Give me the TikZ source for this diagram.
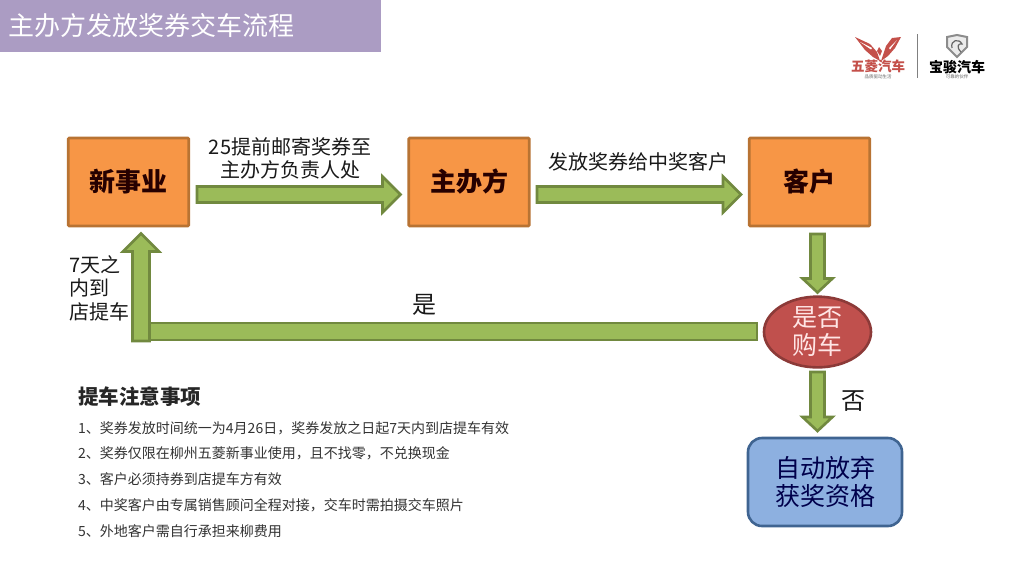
\documentclass[tikz,border=0pt]{standalone}
\usepackage{fontspec}
\setmainfont{Noto Sans CJK SC}
\usetikzlibrary{calc,shapes.geometric}
\definecolor{titlebg}{HTML}{AB9CC3}
\definecolor{orfill}{HTML}{F79646}
\definecolor{orline}{HTML}{B87333}
\definecolor{grfill}{HTML}{9BBB59}
\definecolor{grline}{HTML}{71893F}
\definecolor{redfill}{HTML}{C0504D}
\definecolor{redline}{HTML}{8C3A38}
\definecolor{blfill}{HTML}{8DB0E0}
\definecolor{blline}{HTML}{3F6491}
\definecolor{wlred}{HTML}{C4504A}
\tikzset{
  x=1pt,y=-1pt,
  fs/.style={font=\fontsize{#1}{#1}\selectfont},
  orbox/.style={draw=orline,line width=2.6pt,fill=orfill,rounded corners=1pt,minimum width=120.5pt,minimum height=88pt,inner sep=0pt,text=black!85!red,font=\bfseries\fontsize{26}{26}\selectfont},
  barrowshape/.style={draw=grline,line width=2.6pt,fill=grfill,line join=miter},
  lab/.style={fs=20,text=black!90,inner sep=0pt,align=center},
  note/.style={anchor=west,fs=14,text=black!80,inner sep=0pt},
}
% block arrow from #1 to #2: half shaft #3, half head #4, head length #5
\newcommand{\blockarrow}[5]{%
  \coordinate (tmpc) at ($#2!#5pt!#1$);
  \draw[barrowshape] ($#1!#3pt!90:#2$) -- ($(tmpc)!#3pt!90:#2$) -- ($(tmpc)!#4pt!90:#2$) -- #2 -- ($(tmpc)!#4pt!-90:#2$) -- ($(tmpc)!#3pt!-90:#2$) -- ($#1!#3pt!-90:#2$) -- cycle;
}
\begin{document}
\begin{tikzpicture}
\useasboundingbox (0,0) rectangle (1025,579);
\fill[white] (0,0) rectangle (1025,579);
% title
\fill[titlebg] (0,0) rectangle (381,52);
\node[anchor=west,fs=26,text=white,inner sep=0pt] (title) at (8,26) {主办方发放奖券交车流程};
% logos
\fill[wlred] (855,37) -- (870,44) -- (877,52) -- (880,61) -- (873,57) -- (865,50) -- cycle;
\fill[wlred] (901,37) -- (892,38) -- (886,46) -- (884,52) -- (881,61) -- (888,56) -- (895,48) -- cycle;
\fill[wlred] (879,47) -- (882,51) -- (880,56) -- (877,51) -- cycle;
\fill[white] (860,42) -- (872,48) -- (871,49.5) -- cycle;
\fill[white] (897,40) -- (889,48) -- (890,49.5) -- cycle;
\node[inner sep=0pt,text=wlred,font=\bfseries\fontsize{13.5}{13.5}\selectfont] (wl) at (878,66) {五菱汽车};
\node[fs=4.5,text=black!60,inner sep=0pt] (wls) at (878,76.5) {品质驱动生活};
\draw[black!50,line width=0.8pt] (917,34) -- (917,78);
\draw[black!45,line width=2pt,fill=black!8] (947,37) -- (957,35) -- (967,37) -- (967,47) -- (957,57) -- (947,47) -- cycle;
\draw[black!60,line width=1.2pt] (952,48) .. controls (950,40) and (959,38) .. (962,44) .. controls (958,43) and (956,47) .. (961,52);
\node[inner sep=0pt,text=black,font=\bfseries\fontsize{14}{14}\selectfont] (bj) at (957,67) {宝骏汽车};
\node[fs=4.5,text=black!60,inner sep=0pt] (bjs) at (957,76.5) {可靠的伙伴};
% main nodes
\node[orbox] (xsy) at (128.5,182) {新事业};
\node[orbox] (zbf) at (469,182) {主办方};
\node[orbox] (kh) at (809.5,182) {客户};
\node[ellipse,draw=redline,line width=2.6pt,fill=redfill,minimum width=107pt,minimum height=66pt,inner sep=0pt,text=red!10!white,fs=25,align=center] (gc) at (817.5,332) {是否\\[3pt]购车};
\node[draw=blline,line width=2.6pt,fill=blfill,rounded corners=14pt,minimum width=154pt,minimum height=88pt,inner sep=0pt,fs=25,align=center,text=blue!30!black] (fq) at (825,482) {自动放弃\\[3pt]获奖资格};
% arrow end points
\coordinate (a1s) at (197,194.5);
\coordinate (a1e) at (400.5,194.5);
\coordinate (a2s) at (537,194.5);
\coordinate (a2e) at (741,194.5);
\coordinate (a3s) at (817.5,234);
\coordinate (a3e) at (817.5,292.5);
\coordinate (a4s) at (817.5,372);
\coordinate (a4e) at (817.5,431);
\coordinate (a5s) at (141,341);
\coordinate (a5e) at (141,233.5);
\coordinate (a6s) at (757,331.5);
\coordinate (a6e) at (150,331.5);
\blockarrow{(a1s)}{(a1e)}{8}{18}{18}
\blockarrow{(a2s)}{(a2e)}{8}{18}{18}
\blockarrow{(a3s)}{(a3e)}{7}{15}{14}
\blockarrow{(a4s)}{(a4e)}{7}{15}{14}
\draw[barrowshape] (a6s |- 0,323) rectangle (a6e |- 0,340);
\blockarrow{(a5s)}{(a5e)}{8.5}{18}{18}
% arrow labels
\node[lab] (l1) at (290,158) {25提前邮寄奖券至\\[3pt]主办方负责人处};
\node[lab] (l2) at (638.5,162) {发放奖券给中奖客户};
\node[lab,fs=24] (l3) at (424,305) {是};
\node[lab,fs=24] (l4) at (853,401) {否};
\node[lab,align=left,anchor=north west] (l5) at (69,255) {7天之\\[3.5pt]内到\\[3.5pt]店提车};
% notes
\node[anchor=west,inner sep=0pt,text=black!85,font=\bfseries\fontsize{20.5}{20.5}\selectfont] (nh) at (78,397) {提车注意事项};
\node[note] (n1) at (78,428) {1、奖券发放时间统一为4月26日，奖券发放之日起7天内到店提车有效};
\node[note] (n2) at (78,453.5) {2、奖券仅限在柳州五菱新事业使用，且不找零，不兑换现金};
\node[note] (n3) at (78,479.5) {3、客户必须持券到店提车方有效};
\node[note] (n4) at (78,505.5) {4、中奖客户由专属销售顾问全程对接，交车时需拍摄交车照片};
\node[note] (n5) at (78,531) {5、外地客户需自行承担来柳费用};
\end{tikzpicture}
\end{document}
